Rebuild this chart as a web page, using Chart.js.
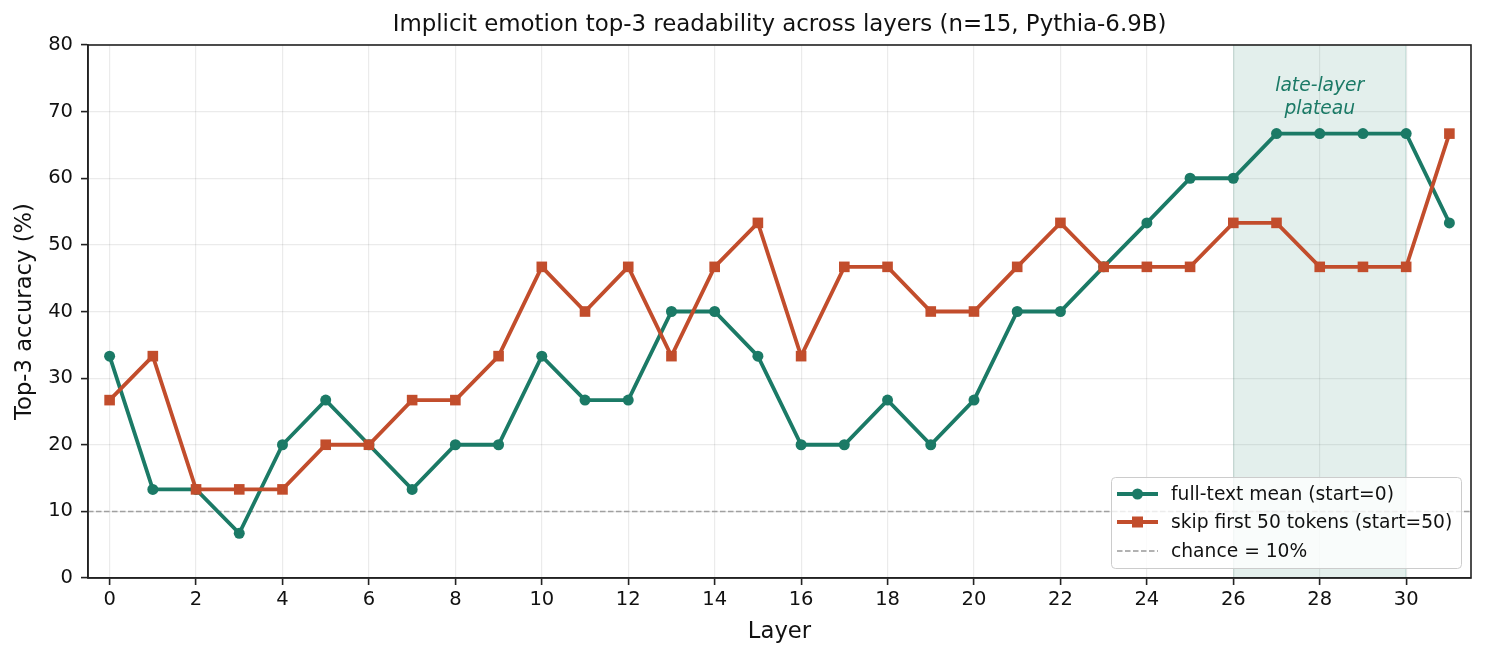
<!DOCTYPE html>
<html>
<head>
<meta charset="utf-8">
<script src="https://cdn.jsdelivr.net/npm/chart.js@4.4.1/dist/chart.umd.min.js"></script>
<style>
  html, body { margin: 0; padding: 0; background: #fff; }
  #wrap { width: 1485px; height: 659px; }
</style>
</head>
<body>
<div id="wrap"><canvas id="chart" width="1485" height="659"></canvas></div>
<script>
const layers = [];
for (let i = 0; i < 32; i++) layers.push(i);

const fullText = [33.3, 13.3, 13.3, 6.7, 20, 26.7, 20, 13.3, 20, 20, 33.3, 26.7, 26.7, 40, 40, 33.3,
  20, 20, 26.7, 20, 26.7, 40, 40, 46.7, 53.3, 60, 60, 66.7, 66.7, 66.7, 66.7, 53.3];
const skipFirst = [26.7, 33.3, 13.3, 13.3, 13.3, 20, 20, 26.7, 26.7, 33.3, 46.7, 40, 46.7, 33.3, 46.7, 53.3,
  33.3, 46.7, 46.7, 40, 40, 46.7, 53.3, 46.7, 46.7, 46.7, 53.3, 53.3, 46.7, 46.7, 46.7, 66.7];
const chance = 10;
const xTicks = [0, 2, 4, 6, 8, 10, 12, 14, 16, 18, 20, 22, 24, 26, 28, 30];
const plateau = [26, 30];

const GREEN = '#1b7a66';
const ORANGE = '#c24d2c';
const FONT = "'DejaVu Sans', sans-serif";

function pts(vals) {
  return vals.map((v, i) => ({ x: layers[i], y: v }));
}

const extras = {
  id: 'extras',
  beforeDatasetsDraw(chart) {
    const { ctx, chartArea: a, scales: { x } } = chart;
    const x0 = x.getPixelForValue(plateau[0]);
    const x1 = x.getPixelForValue(plateau[1]);
    ctx.save();
    ctx.fillStyle = 'rgba(27,122,102,0.12)';
    ctx.fillRect(x0, a.top, x1 - x0, a.bottom - a.top);
    ctx.strokeStyle = 'rgba(27,122,102,0.15)';
    ctx.lineWidth = 1;
    ctx.beginPath();
    ctx.moveTo(x0 + 0.5, a.top); ctx.lineTo(x0 + 0.5, a.bottom);
    ctx.moveTo(x1 - 0.5, a.top); ctx.lineTo(x1 - 0.5, a.bottom);
    ctx.stroke();
    ctx.restore();
  },
  afterDraw(chart) {
    const { ctx, chartArea: a, scales: { x, y } } = chart;
    ctx.save();
    // frame
    ctx.strokeStyle = '#222';
    ctx.lineWidth = 1.6;
    ctx.strokeRect(a.left, a.top, a.right - a.left, a.bottom - a.top);

    // title
    ctx.fillStyle = '#111';
    ctx.textAlign = 'center';
    ctx.textBaseline = 'middle';
    ctx.font = '22.9px ' + FONT;
    ctx.fillText('Implicit emotion top-3 readability across layers (n=15, Pythia-6.9B)', (a.left + a.right) / 2, 25);

    // axis titles
    ctx.font = '22.7px ' + FONT;
    ctx.fillText('Layer', (a.left + a.right) / 2, 632);
    ctx.save();
    ctx.translate(25, (a.top + a.bottom) / 2);
    ctx.rotate(-Math.PI / 2);
    ctx.fillText('Top-3 accuracy (%)', 0, 0);
    ctx.restore();

    // annotation
    const cx = x.getPixelForValue((plateau[0] + plateau[1]) / 2);
    ctx.fillStyle = GREEN;
    ctx.font = 'italic 18.7px ' + FONT;
    ctx.fillText('late-layer', cx, 86);
    ctx.fillText('plateau', cx, 109);

    // legend
    const lx = 1111, ly = 477, lw = 350, lh = 91;
    ctx.fillStyle = 'rgba(255,255,255,0.8)';
    ctx.strokeStyle = '#cccccc';
    ctx.lineWidth = 1;
    ctx.beginPath();
    ctx.roundRect(lx + 0.5, ly + 0.5, lw, lh, 4);
    ctx.fill();
    ctx.stroke();

    const rows = [
      { label: 'full-text mean (start=0)', color: GREEN, marker: 'circle', y: 494 },
      { label: 'skip first 50 tokens (start=50)', color: ORANGE, marker: 'square', y: 522 },
      { label: 'chance = 10%', color: '#999', marker: null, y: 551 }
    ];
    ctx.textAlign = 'left';
    ctx.font = '18.7px ' + FONT;
    rows.forEach(r => {
      ctx.strokeStyle = r.color;
      if (r.marker) {
        ctx.lineWidth = 3.8;
        ctx.setLineDash([]);
      } else {
        ctx.lineWidth = 1.5;
        ctx.setLineDash([5.5, 2.5]);
      }
      ctx.beginPath();
      ctx.moveTo(1117, r.y);
      ctx.lineTo(1158, r.y);
      ctx.stroke();
      ctx.setLineDash([]);
      ctx.fillStyle = r.color;
      if (r.marker === 'circle') {
        ctx.beginPath();
        ctx.arc(1137.5, r.y, 5.5, 0, Math.PI * 2);
        ctx.fill();
      } else if (r.marker === 'square') {
        ctx.fillRect(1132, r.y - 5.5, 11, 11);
      }
      ctx.fillStyle = '#111';
      ctx.fillText(r.label, 1171, r.y + 1);
    });
    ctx.restore();
  }
};

new Chart(document.getElementById('chart'), {
  type: 'line',
  data: {
    datasets: [
      {
        label: 'full-text mean (start=0)',
        data: pts(fullText),
        borderColor: GREEN,
        backgroundColor: GREEN,
        borderWidth: 3.8,
        pointStyle: 'circle',
        pointRadius: 5.5,
        pointBorderWidth: 0,
        tension: 0,
        order: 1
      },
      {
        label: 'skip first 50 tokens (start=50)',
        data: pts(skipFirst),
        borderColor: ORANGE,
        backgroundColor: ORANGE,
        borderWidth: 3.8,
        pointStyle: 'rect',
        pointRadius: 7.5,
        pointBorderWidth: 0,
        tension: 0,
        order: 0
      },
      {
        label: 'chance = 10%',
        data: [{ x: -0.5, y: chance }, { x: 31.5, y: chance }],
        borderColor: '#a0a0a0',
        borderWidth: 1.5,
        borderDash: [5.5, 2.5],
        pointRadius: 0,
        order: 2
      }
    ]
  },
  options: {
    responsive: false,
    animation: false,
    layout: { padding: { top: 45, right: 14, left: 0, bottom: 0 } },
    plugins: {
      legend: { display: false },
      title: { display: false },
      tooltip: { enabled: false }
    },
    scales: {
      x: {
        type: 'linear',
        min: -0.5,
        max: 31.5,
        afterBuildTicks(scale) {
          scale.ticks = xTicks.map(v => ({ value: v }));
        },
        afterFit(scale) { scale.height = 81; },
        grid: {
          color: 'rgba(0,0,0,0.08)',
          lineWidth: 1.2,
          tickColor: '#222',
          tickLength: 7,
          tickWidth: 1.6
        },
        border: { color: '#222', width: 1.6 },
        ticks: {
          color: '#111',
          font: { family: FONT, size: 19.5 },
          padding: 3,
          maxRotation: 0,
          callback: v => String(v)
        }
      },
      y: {
        min: 0,
        max: 80,
        afterFit(scale) { scale.width = 88; },
        grid: {
          color: 'rgba(0,0,0,0.08)',
          lineWidth: 1.2,
          tickColor: '#222',
          tickLength: 7,
          tickWidth: 1.6
        },
        border: { color: '#222', width: 1.6 },
        ticks: {
          stepSize: 10,
          color: '#111',
          font: { family: FONT, size: 19.5 },
          padding: 8
        }
      }
    }
  },
  plugins: [extras]
});
</script>
</body>
</html>
